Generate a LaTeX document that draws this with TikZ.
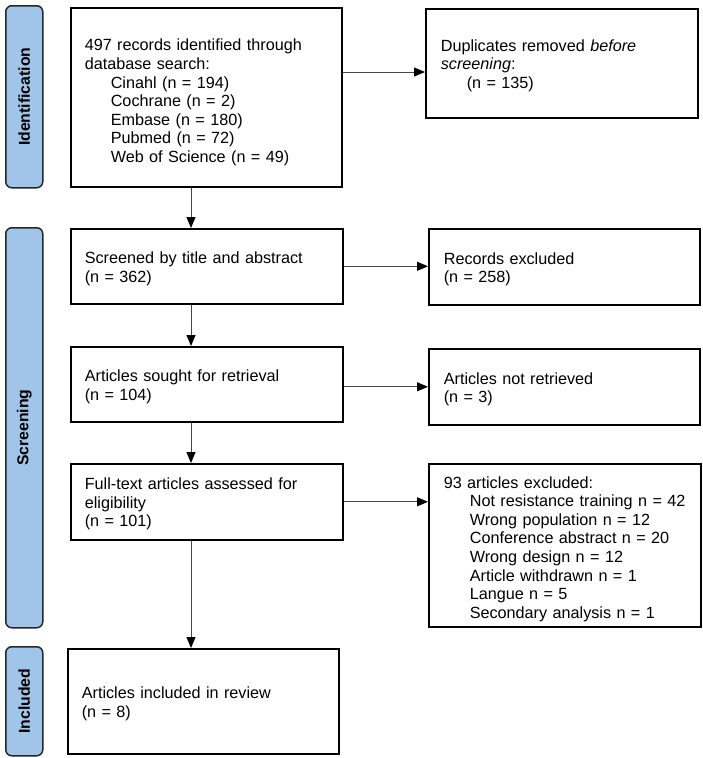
\documentclass[tikz,border=0pt]{standalone}
\usepackage{fontspec}
\setmainfont{Liberation Sans}
\usetikzlibrary{arrows.meta,calc}
\definecolor{phaseblue}{RGB}{160,197,233}
\definecolor{arrgray}{RGB}{70,70,70}
\begin{document}
\begin{tikzpicture}[x=1pt,y=-1pt,
  box/.style={draw=black,line width=1.6pt,anchor=north west,inner xsep=14pt,inner ysep=0pt,align=left,
    font=\fontsize{16.2}{18.6}\selectfont,execute at begin node={\rule{0pt}{16.5pt}}},
  phase/.style={draw=black!85,line width=1.5pt,fill=phaseblue,rounded corners=6pt,anchor=north west,
    minimum width=37pt,inner sep=0pt},
  phaselabel/.style={rotate=90,font=\fontsize{15.8}{18}\selectfont\bfseries},
  arr/.style={draw=arrgray,line width=1pt,-{Triangle[length=11pt,width=9pt,fill=black,color=black]}}]
\useasboundingbox (0,0) rectangle (702,758);
% phase bars
\node[phase,minimum height=182pt] (pid) at (5,5) {};
\node[phaselabel] at (pid.center) {Identification};
\node[phase,minimum height=400pt] (pscr) at (5,227) {};
\node[phaselabel] at (pscr.center) {Screening};
\node[phase,minimum height=109pt] (pinc) at (5,646) {};
\node[phaselabel] at (pinc.center) {Included};
\newcommand{\ind}{\hspace*{26pt}}
% boxes
\node[box,minimum width=271pt,minimum height=179pt,text width=243pt] (b1) at (70,7)
 {\rule{0pt}{22pt}497 records identified through\\database search:\\\ind Cinahl (n = 194)\\\ind Cochrane (n = 2)\\\ind Embase (n = 180)\\\ind Pubmed (n = 72)\\\ind Web of Science (n = 49)};
\node[box,minimum width=272pt,minimum height=109pt,text width=242pt,inner xsep=15pt] (dup) at (425,8)
 {Duplicates removed \textit{before}\\\textit{screening}:\\\ind(n = 135)};
\node[box,minimum width=272pt,minimum height=75pt,text width=244pt] (scr) at (70,228)
 {Screened by title and abstract\\(n = 362)};
\node[box,minimum width=271pt,minimum height=76pt,text width=241pt,inner xsep=15pt] (rex) at (428,228)
 {Records excluded\\(n = 258)};
\node[box,minimum width=272pt,minimum height=75pt,text width=244pt] (sought) at (70,346)
 {Articles sought for retrieval\\(n = 104)};
\node[box,minimum width=271pt,minimum height=76pt,text width=241pt,inner xsep=15pt] (nret) at (428,348)
 {Articles not retrieved\\(n = 3)};
\node[box,minimum width=272pt,minimum height=76pt,text width=244pt] (ft) at (70,463)
 {Full-text articles assessed for\\eligibility\\(n = 101)};
\node[box,minimum width=272pt,minimum height=163pt,text width=242pt,inner xsep=15pt] (exc) at (428,463)
 {\rule{0pt}{19pt}93 articles excluded:\\\ind Not resistance training n = 42\\\ind Wrong population n = 12\\\ind Conference abstract n = 20\\\ind Wrong design n = 12\\\ind Article withdrawn n = 1\\\ind Langue n = 5\\\ind Secondary analysis n = 1};
\node[box,minimum width=271pt,minimum height=105pt,text width=243pt] (inc) at (67,648)
 {Articles included in review\\(n = 8)};
% arrows
\coordinate (h1) at (0,72);
\draw[arr] (b1.east |- h1) -- (dup.west |- h1);
\draw[arr] (scr.east) -- (scr.east -| rex.west);
\draw[arr] (sought.east |- nret.west) -- (nret.west);
\draw[arr] (ft.east) -- (ft.east -| exc.west);
\coordinate (vx) at (191,0);
\draw[arr] (b1.south -| vx) -- (scr.north -| vx);
\draw[arr] (scr.south -| vx) -- (sought.north -| vx);
\draw[arr] (sought.south -| vx) -- (ft.north -| vx);
\draw[arr] (ft.south -| vx) -- (inc.north -| vx);
\end{tikzpicture}
\end{document}
